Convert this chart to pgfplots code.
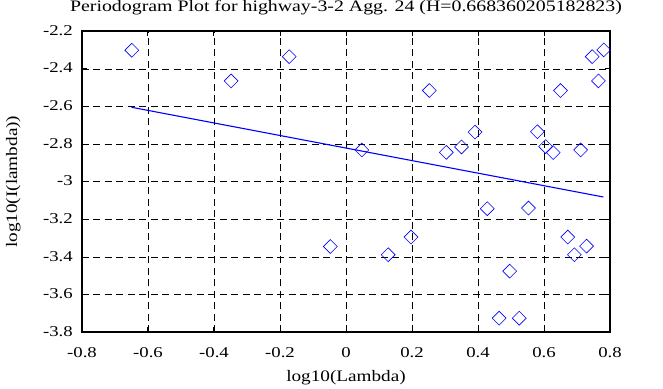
\documentclass[border=0pt]{standalone}
\usepackage{pgfplots}
\pgfplotsset{compat=1.18}
\usepackage{fontspec}
\setmainfont{Liberation Serif}
\newfontfamily\tck[FakeStretch=1.25]{Liberation Serif}
\newfontfamily\lbl[FakeStretch=1.2]{Liberation Serif}
\newfontfamily\ttl[FakeStretch=1.24]{Liberation Serif}
\begin{document}
\begin{tikzpicture}
\begin{axis}[
  scale only axis,
  width=528pt, height=301pt,
  xmin=-0.8, xmax=0.8, ymin=-3.8, ymax=-2.2,
  xtick={-0.8,-0.6,...,0.8},
  ytick={-3.8,-3.6,...,-2.2},
  xticklabels={-0.8,-0.6,-0.4,-0.2,0,0.2,0.4,0.6,0.8},
  yticklabels={-3.8,-3.6,-3.4,-3.2,-3,-2.8,-2.6,-2.4,-2.2},
  tick align=inside,
  major tick length=5pt,
  tick style={black, line width=1pt},
  axis line style={black, line width=1.6pt},
  grid=major,
  major grid style={black, line width=0.7pt, dash pattern=on 7pt off 4.5pt},
  tick label style={font=\tck\fontsize{15}{17}\selectfont, inner sep=0pt},
  /pgf/number format/assume math mode=true,
  xticklabel style={anchor=base, yshift=-25pt},
  yticklabel style={anchor=base east, xshift=-9pt, yshift=-4pt},
  title={Periodogram Plot for highway-3-2 Agg. 24 (H=0.668360205182823)},
  title style={font=\ttl\fontsize{16}{18}\selectfont, at={(axis description cs:0.5,1.0465)}, anchor=base, inner sep=0pt},
  xlabel={log10(Lambda)},
  ylabel={log10(I(lambda))},
  label style={font=\lbl\fontsize{16}{18}\selectfont, inner sep=0pt},
  xlabel style={at={(axis description cs:0.5,-0.163)}, anchor=base},
  ylabel style={at={(axis description cs:-0.123,0.5)}, anchor=base},
  clip=false,
]
\addplot[only marks, blue, mark=square, mark size=4.9pt, mark options={rotate=45, line width=0.6pt, fill=none}] coordinates {
(-0.649,-2.301) (-0.348,-2.464) (-0.172,-2.335) (-0.0475,-3.344) (0.048,-2.831)
(0.128,-3.388) (0.197,-3.294) (0.2525,-2.515) (0.304,-2.844) (0.350,-2.815)
(0.391,-2.736) (0.428,-3.143) (0.464,-3.725) (0.496,-3.475) (0.525,-3.725)
(0.553,-3.140) (0.580,-2.734) (0.605,-2.813) (0.628,-2.845) (0.650,-2.515)
(0.672,-3.294) (0.692,-3.388) (0.711,-2.831) (0.729,-3.342) (0.746,-2.335)
(0.765,-2.464) (0.781,-2.299)
};
\addplot[blue, line width=1.1pt] coordinates {(-0.65,-2.604) (0.78,-3.081)};
\end{axis}
\path (current axis.south west) ++(-82pt,-56pt) coordinate (bl);
\path (current axis.north east) ++(53pt,30pt) coordinate (tr);
\path[use as bounding box] (bl) rectangle (tr);
\end{tikzpicture}
\end{document}
